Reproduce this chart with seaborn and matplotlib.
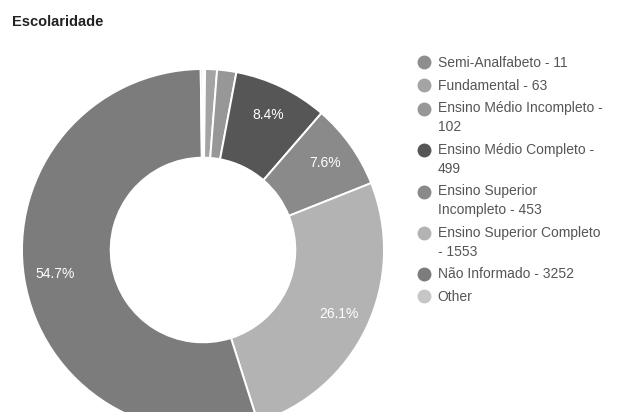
import textwrap
import numpy as np
import seaborn as sns
import matplotlib
matplotlib.use("Agg")
import matplotlib.pyplot as plt
from matplotlib.lines import Line2D
from matplotlib.legend_handler import HandlerLine2D

# data
categories = [
    "Semi-Analfabeto",
    "Fundamental",
    "Ensino Médio Incompleto",
    "Ensino Médio Completo",
    "Ensino Superior Incompleto",
    "Ensino Superior Completo",
    "Não Informado",
    "Other",
]
counts = [11, 63, 102, 499, 453, 1553, 3252, 12]
show_count = [True, True, True, True, True, True, True, False]
grays = ["#8e8e8e", "#a4a4a4", "#979797", "#565656",
         "#8a8a8a", "#b3b3b3", "#7c7c7c", "#c6c6c6"]

sns.set_theme(style="white")
plt.rcParams["font.family"] = ["Liberation Sans", "DejaVu Sans"]

W, H = 622, 412
fig = plt.figure(figsize=(W / 100, H / 100), dpi=100)

# donut axes, placed in pixel terms (centre ~ (203, 250) from top, radius ~181)
cx, cy, R = 203, 250, 181
ax = fig.add_axes([(cx - R) / W, (H - cy - R) / H, 2 * R / W, 2 * R / H])


def pct_fmt(p):
    return f"{p:.1f}%" if p >= 5 else ""


wedges, _, autotexts = ax.pie(
    counts,
    colors=grays,
    startangle=90,
    counterclock=False,
    radius=1.0,
    autopct=pct_fmt,
    pctdistance=0.83,
    wedgeprops=dict(width=0.49, edgecolor="white", linewidth=1.4),
    textprops=dict(color="white", fontsize=10),
)
ax.set_xlim(-1, 1)
ax.set_ylim(-1, 1)
ax.set_aspect("equal")
ax.axis("off")

fig.text(12 / W, 1 - 22 / H, "Escolaridade", fontsize=10.5, fontweight="bold",
         color="#222222", va="center", ha="left")


# marker sits next to the first line of a wrapped label
class FirstLineHandler(HandlerLine2D):
    def __init__(self, shift=0.0, **kw):
        super().__init__(**kw)
        self.shift = shift

    def create_artists(self, legend, orig_handle, xdescent, ydescent,
                       width, height, fontsize, trans):
        artists = super().create_artists(legend, orig_handle, xdescent, ydescent,
                                         width, height, fontsize, trans)
        for a in artists:
            a.set_ydata(np.asarray(a.get_ydata()) + self.shift)
        return artists


labels = []
for name, n, show in zip(categories, counts, show_count):
    txt = f"{name} - {n}" if show else name
    labels.append(textwrap.fill(txt, width=25, break_on_hyphens=False))

handles = [Line2D([], [], linestyle="none", marker="o", markersize=9,
                  markerfacecolor=c, markeredgecolor=c) for c in grays]
hmap = {h: FirstLineHandler(shift=7.0 * (lab.count("\n")))
        for h, lab in zip(handles, labels)}

leg = fig.legend(
    handles, labels,
    loc="upper left",
    bbox_to_anchor=(417 / W, 1 - 56 / H),
    frameon=False,
    fontsize=10,
    borderpad=0, borderaxespad=0,
    handlelength=1.0, handletextpad=0.5,
    labelspacing=0.62,
    handler_map=hmap,
)
for t in leg.get_texts():
    t.set_color("#555555")
    t.set_linespacing(1.45)

fig.savefig("out.png", dpi=100, facecolor="white")
